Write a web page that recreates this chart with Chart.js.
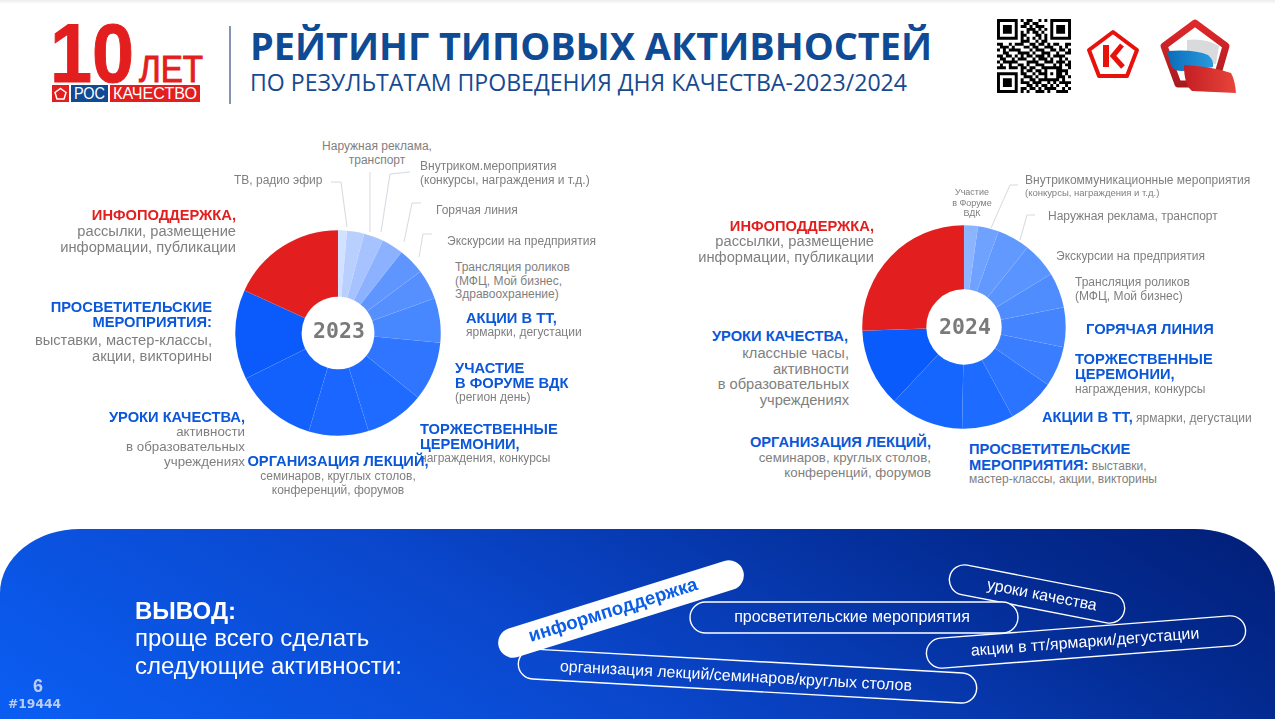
<!DOCTYPE html>
<html lang="ru">
<head>
<meta charset="utf-8">
<title>Рейтинг типовых активностей</title>
<script src="https://cdn.jsdelivr.net/npm/chart.js@4/dist/chart.umd.min.js"></script>
<style>
  html, body { margin: 0; padding: 0; background: #fff; }
  #page { position: relative; width: 1275px; height: 719px; overflow: hidden; background: #fff; font-family: "Liberation Sans", Arial, sans-serif; color: #7f7f7f; }
  #topband { position: absolute; left: 0; top: 0; width: 1275px; height: 4px; background: linear-gradient(#ececec, #fff); }
  svg.layer { position: absolute; left: 0; top: 0; }
  canvas { position: absolute; }
  .t { position: absolute; white-space: nowrap; font-size: 12px; line-height: 13.5px; }
  .r { text-align: right; }
  .c { text-align: center; }
  .m { font-size: 14.7px; line-height: 15.5px; }
  .s { font-size: 13.3px; line-height: 15px; }
  .b { font-weight: bold; font-size: 14.7px; line-height: 15px; color: #0b57d9; }
  .red { color: #e31e1e; }
  .year { position: absolute; font: bold 21.5px "DejaVu Sans Mono", monospace; color: #7a7a7a; text-align: center; width: 80px; }
  .w { position: absolute; color: #fff; white-space: nowrap; }
</style>
</head>
<body>
<div id="page">
  <div id="topband"></div>

  <!-- header logos -->
  <svg class="layer" width="1275" height="130" font-family="Liberation Sans">
    <defs>
      <linearGradient id="redRim" x1="0" y1="0" x2="0" y2="1">
        <stop offset="0" stop-color="#e0282a"/>
        <stop offset="1" stop-color="#a81c20"/>
      </linearGradient>
      <linearGradient id="blueBand" x1="0" y1="0" x2="1" y2="0">
        <stop offset="0" stop-color="#0a6cb8"/>
        <stop offset="1" stop-color="#2a9ade"/>
      </linearGradient>
      <linearGradient id="redBand" x1="0" y1="0" x2="1" y2="0">
        <stop offset="0" stop-color="#c41e24"/>
        <stop offset="1" stop-color="#e8453a"/>
      </linearGradient>
    </defs>
    <text x="50" y="82" font-size="84" font-weight="bold" fill="#e31e1e" stroke="#e31e1e" stroke-width="1" textLength="84" lengthAdjust="spacingAndGlyphs">10</text>
    <text x="139" y="82" font-size="36" fill="#e31e1e" stroke="#e31e1e" stroke-width="1" textLength="64" lengthAdjust="spacingAndGlyphs">ЛЕТ</text>
    <rect x="52" y="85" width="17" height="17" fill="#e31e1e"/>
    <path d="M60.5 88.5 L66 92.5 L64 99 L57 99 L55 92.5 Z" fill="none" stroke="#fff" stroke-width="1.5"/>
    <rect x="71" y="85" width="37" height="17" fill="#0f4a94"/>
    <rect x="110" y="85" width="90" height="17" fill="#e31e1e"/>
    <text x="74" y="99" font-size="16" fill="#fff" textLength="31" lengthAdjust="spacingAndGlyphs">РОС</text>
    <text x="113" y="99" font-size="16" fill="#fff" textLength="84" lengthAdjust="spacingAndGlyphs">КАЧЕСТВО</text>
    <line x1="230" y1="26" x2="230" y2="104" stroke="#5d6f94" stroke-width="1.5"/>

    <text x="250" y="60" font-family="Open Sans" font-size="38" font-weight="bold" fill="#0f4a94" textLength="682" lengthAdjust="spacingAndGlyphs">РЕЙТИНГ ТИПОВЫХ АКТИВНОСТЕЙ</text>
    <text x="250" y="91" font-family="Open Sans" font-size="23" fill="#17498f" textLength="657" lengthAdjust="spacingAndGlyphs">ПО РЕЗУЛЬТАТАМ ПРОВЕДЕНИЯ ДНЯ КАЧЕСТВА-2023/2024</text>

    <g id="qr" fill="#000"></g>

    <path d="M1113 32 L1137 50 L1127 76 L1099 76 L1089 50 Z" fill="#fff" stroke="#e8120c" stroke-width="4" stroke-linejoin="round"/>
    <path d="M1106 45 V67" stroke="#e8120c" stroke-width="6" fill="none"/>
    <path d="M1122 45 L1113 56 L1123 67" stroke="#e8120c" stroke-width="5" fill="none"/>

    <path d="M1195 23 L1226 46 L1215 84 L1178 84 L1164 46 Z" fill="#fff" stroke="url(#redRim)" stroke-width="7" stroke-linejoin="round"/>
    <path d="M1187 40 Q1205 38 1219 46 L1216 64 L1187 62 Z" fill="#d8dadc"/>
    <path d="M1167 51 Q1195 49 1208 55 Q1214 60 1213 67 L1183 71 Q1172 72 1170 62 Z" fill="url(#blueBand)"/>
    <path d="M1184 65 Q1210 66 1231 73 Q1235 80 1236 93 L1192 91 Q1184 85 1184 65 Z" fill="url(#redBand)"/>
  </svg>

  <!-- leader lines -->
  <svg class="layer" width="1275" height="500" fill="none" stroke="#d6d9e2" stroke-width="1">
    <polyline points="331,182 341,182 347,227"/>
    <polyline points="370,172 370,232"/>
    <polyline points="410,172 390,174 381,232"/>
    <polyline points="421,203 412,203 404,242"/>
    <polyline points="432,234 423,234 419,257"/>
    <polyline points="1018,185 1010,185 991,228"/>
    <polyline points="1035,215 1027,215 1020,240"/>
  </svg>

  <canvas id="chart2023" width="206" height="206" style="left:235px;top:230px;width:206px;height:206px"></canvas>
  <canvas id="chart2024" width="204" height="204" style="left:862px;top:225px;width:204px;height:204px"></canvas>
  <div class="year" style="left:299px;top:318px">2023</div>
  <div class="year" style="left:925px;top:314px">2024</div>

  <!-- labels 2023 -->
  <div class="t c" style="left:302px;top:140px;width:150px">Наружная реклама,<br>транспорт</div>
  <div class="t" style="left:234px;top:174px">ТВ, радио эфир</div>
  <div class="t" style="left:420px;top:160px">Внутриком.мероприятия<br>(конкурсы, награждения и т.д.)</div>
  <div class="t" style="left:436px;top:204px">Горячая линия</div>
  <div class="t" style="left:447px;top:235px">Экскурсии на предприятия</div>
  <div class="t" style="left:455px;top:261px">Трансляция роликов<br>(МФЦ, Мой бизнес,<br>Здравоохранение)</div>
  <div class="t b" style="left:466px;top:311px">АКЦИИ В ТТ,</div>
  <div class="t" style="left:466px;top:326px">ярмарки, дегустации</div>
  <div class="t b" style="left:455px;top:361px">УЧАСТИЕ<br>В ФОРУМЕ ВДК</div>
  <div class="t" style="left:455px;top:391px">(регион день)</div>
  <div class="t b" style="left:420px;top:422px">ТОРЖЕСТВЕННЫЕ<br>ЦЕРЕМОНИИ,</div>
  <div class="t" style="left:420px;top:452px">награждения, конкурсы</div>
  <div class="t b c" style="left:228px;top:454px;width:220px">ОРГАНИЗАЦИЯ ЛЕКЦИЙ,</div>
  <div class="t c" style="left:228px;top:470px;width:220px">семинаров, круглых столов,<br>конференций, форумов</div>
  <div class="t b r" style="left:45px;top:410px;width:200px">УРОКИ КАЧЕСТВА,</div>
  <div class="t s r" style="left:45px;top:424px;width:200px">активности<br>в образовательных<br>учреждениях</div>
  <div class="t b r" style="left:12px;top:300px;width:200px">ПРОСВЕТИТЕЛЬСКИЕ<br>МЕРОПРИЯТИЯ:</div>
  <div class="t m r" style="left:12px;top:333px;width:200px">выставки, мастер-классы,<br>акции, викторины</div>
  <div class="t b red r" style="left:36px;top:208px;width:200px">ИНФОПОДДЕРЖКА,</div>
  <div class="t m r" style="left:36px;top:224px;width:200px">рассылки, размещение<br>информации, публикации</div>

  <!-- labels 2024 -->
  <div class="t c" style="left:942px;top:187px;width:60px;font-size:9px;line-height:10.5px">Участие<br>в Форуме<br>ВДК</div>
  <div class="t" style="left:1025px;top:174px">Внутрикоммуникационные мероприятия</div>
  <div class="t" style="left:1025px;top:187px;font-size:9.5px;line-height:11px">(конкурсы, награждения и т.д.)</div>
  <div class="t" style="left:1048px;top:210px">Наружная реклама, транспорт</div>
  <div class="t" style="left:1056px;top:250px">Экскурсии на предприятия</div>
  <div class="t" style="left:1075px;top:276px">Трансляция роликов<br>(МФЦ, Мой бизнес)</div>
  <div class="t b" style="left:1086px;top:322px">ГОРЯЧАЯ ЛИНИЯ</div>
  <div class="t b" style="left:1075px;top:352px">ТОРЖЕСТВЕННЫЕ<br>ЦЕРЕМОНИИ,</div>
  <div class="t" style="left:1075px;top:383px">награждения, конкурсы</div>
  <div class="t" style="left:1042px;top:410px"><span class="b">АКЦИИ В ТТ,</span> ярмарки, дегустации</div>
  <div class="t b" style="left:969px;top:442px">ПРОСВЕТИТЕЛЬСКИЕ</div>
  <div class="t" style="left:969px;top:458px"><span class="b">МЕРОПРИЯТИЯ:</span> выставки,</div>
  <div class="t" style="left:969px;top:473px">мастер-классы, акции, викторины</div>
  <div class="t b r" style="left:731px;top:435px;width:200px">ОРГАНИЗАЦИЯ ЛЕКЦИЙ,</div>
  <div class="t s r" style="left:731px;top:450px;width:200px">семинаров, круглых столов,<br>конференций, форумов</div>
  <div class="t b r" style="left:648px;top:329px;width:200px">УРОКИ КАЧЕСТВА,</div>
  <div class="t m r" style="left:649px;top:346px;width:200px">классные часы,<br>активности<br>в образовательных<br>учреждениях</div>
  <div class="t b red r" style="left:674px;top:219px;width:200px">ИНФОПОДДЕРЖКА,</div>
  <div class="t m r" style="left:674px;top:234px;width:200px">рассылки, размещение<br>информации, публикации</div>

  <!-- bottom panel -->
  <svg class="layer" width="1275" height="719" font-family="Liberation Sans" style="pointer-events:none">
    <defs>
      <linearGradient id="panel" gradientUnits="userSpaceOnUse" x1="100" y1="740" x2="500" y2="70">
        <stop offset="0" stop-color="#0b5cf0"/>
        <stop offset="0.4" stop-color="#0a47cc"/>
        <stop offset="0.8" stop-color="#032a90"/>
        <stop offset="1" stop-color="#021f78"/>
      </linearGradient>
      <linearGradient id="p1" href="#panel" gradientTransform="rotate(-11 1037 594)"/>
      <linearGradient id="p2" href="#panel" gradientTransform="rotate(4.4 1086 642)"/>
      <linearGradient id="p3" href="#panel" gradientTransform="rotate(-3.2 747 676)"/>
    </defs>
    <path d="M0 593 A80 64 0 0 1 80 529 L1195 529 A80 64 0 0 1 1275 593 L1275 719 L0 719 Z" fill="url(#panel)"/>

    <g stroke="#fff" stroke-width="1.4">
      <g transform="rotate(11 1037 594)"><rect x="948" y="579" width="178" height="30" rx="15" fill="url(#p1)"/></g>
      <rect x="690" y="602" width="328" height="31" rx="15.5" fill="url(#panel)"/>
      <g transform="rotate(-4.4 1086 642)"><rect x="926" y="627" width="320" height="30" rx="15" fill="url(#p2)"/></g>
      <g transform="rotate(3.2 747 676)"><rect x="518" y="661" width="459" height="30" rx="15" fill="url(#p3)"/></g>
    </g>
    <g transform="rotate(-17.4 621 609)"><rect x="493" y="594" width="256" height="30" rx="15" fill="#fff"/></g>

    <g fill="#fff" font-size="16" text-anchor="middle">
      <text x="852" y="622">просветительские мероприятия</text>
      <text transform="rotate(11 1042 595)" x="1042" y="600">уроки качества</text>
      <text transform="rotate(-4.4 1085 642)" x="1085" y="647">акции в тт/ярмарки/дегустации</text>
      <text transform="rotate(3.2 736 676)" x="736" y="681">организация лекций/семинаров/круглых столов</text>
    </g>
    <text transform="rotate(-17.4 613 610)" x="613" y="616" font-size="18.7" font-weight="bold" fill="#0b5fe6" text-anchor="middle">информподдержка</text>
  </svg>

  <div class="w" style="left:135px;top:597px;font-size:24px;font-weight:bold">ВЫВОД:</div>
  <div class="w" style="left:135px;top:624px;font-size:24px">проще всего сделать</div>
  <div class="w" style="left:135px;top:652px;font-size:24px">следующие активности:</div>
  <div class="w" style="left:33px;top:676px;font-size:18px;font-weight:bold;color:#b9cdf5">6</div>
  <div class="w" style="left:8px;top:697px;font:bold 12.3px 'DejaVu Sans';color:#b9cdf0">#19444</div>
</div>

<script>
// slices go clockwise from 12 o'clock, values are shares
const labels2023 = ["ТВ, радио эфир", "Наружная реклама, транспорт", "Внутриком.мероприятия", "Горячая линия", "Экскурсии на предприятия", "Трансляция роликов", "Акции в ТТ", "Участие в форуме ВДК", "Торжественные церемонии", "Организация лекций", "Уроки качества", "Просветительские мероприятия", "Инфоподдержка"]
const values2023 = [1.4, 2.7, 3.1, 3.4, 4.2, 4.7, 7.0, 9.3, 9.4, 9.4, 13.1, 14.1, 18.2]

const labels2024 = ["Участие в Форуме ВДК", "Внутрикоммуникационные мероприятия", "Наружная реклама, транспорт", "Экскурсии на предприятия", "Трансляция роликов", "Горячая линия", "Торжественные церемонии", "Акции в ТТ", "Просветительские мероприятия", "Организация лекций", "Уроки качества", "Инфоподдержка"]
const values2024 = [2.2, 3.3, 5.2, 5.6, 5.6, 6.3, 6.4, 7.5, 8.2, 11.7, 12.4, 25.6]

const colors2023 = ["#d2e1ff", "#b9d0ff", "#a6c3ff", "#8cb2ff", "#5f95ff", "#5690ff", "#4787ff", "#2f75ff", "#206bff", "#1a66ff", "#1261fd", "#0a5afc", "#e31e1e"]
const colors2024 = ["#8db4ff", "#6fa1ff", "#6199ff", "#5a95ff", "#4f8dff", "#4485ff", "#3a7eff", "#2a74ff", "#1e6bff", "#1565ff", "#0a5bfc", "#e31e1e"]

// QR code modules, drawn as a plain bitmap
const qrRows = [
  "1111111010110010101111111",
  "1000001001101100001000001",
  "1011101011010111001011101",
  "1011101000111010101011101",
  "1011101010101101001011101",
  "1000001011000110101000001",
  "1111111010101010101111111",
  "0000000011100101100000000",
  "1100101110011011010110011",
  "0111010001101100111001010",
  "1010111100010111001101101",
  "0011000111101001110010011",
  "1101101010110111010111100",
  "0110010111001011101001010",
  "1011111000111100111011101",
  "0100100110100111000101011",
  "1110111011011001111111001",
  "0000000010110110100011110",
  "1111111011001011101011010",
  "1000001001110100100011101",
  "1011101010011011111110100",
  "1011101011101110010101111",
  "1011101000110101101010010",
  "1000001011011010111100101",
  "1111111010100111010011110"
]

function drawQr() {
  const g = document.getElementById("qr")
  const size = 74 / qrRows.length
  let d = ""
  qrRows.forEach((row, y) => {
    for (let x = 0; x < row.length; x++) {
      if (row[x] === "1") d += `M${997 + x * size} ${19 + y * size}h${size}v${size}h${-size}z`
    }
  })
  const p = document.createElementNS("http://www.w3.org/2000/svg", "path")
  p.setAttribute("d", d)
  g.appendChild(p)
}

function makeDoughnut(id, labels, values, colors, cut) {
  return new Chart(document.getElementById(id), {
    type: "doughnut",
    data: {
      labels: labels,
      datasets: [{
        data: values,
        backgroundColor: colors,
        borderColor: "rgba(255,255,255,0.08)",
        borderWidth: 0.5,
      }],
    },
    options: {
      responsive: false,
      animation: false,
      cutout: cut,
      radius: "100%",
      layout: { padding: 0 },
      plugins: { legend: { display: false }, tooltip: { enabled: false } },
    },
  })
}

drawQr()
makeDoughnut("chart2023", labels2023, values2023, colors2023, "35.4%")
makeDoughnut("chart2024", labels2024, values2024, colors2024, "37%")
</script>
</body>
</html>
